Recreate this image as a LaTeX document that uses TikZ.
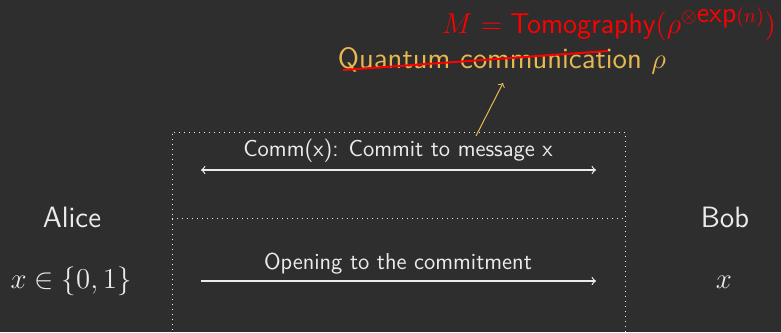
\documentclass[tikz,border=0pt]{standalone}
\definecolor{bg}{RGB}{46,46,46}
\definecolor{fg}{RGB}{235,235,235}
\definecolor{orng}{RGB}{232,185,80}
\definecolor{rd}{RGB}{255,0,0}
\tikzset{
  small/.style={font=\sffamily\fontsize{11.5}{13}\selectfont, text=fg, anchor=base, inner sep=0pt},
  big/.style={font=\sffamily\fontsize{14.7}{17}\selectfont, anchor=base, inner sep=0pt},
  msg/.style={draw=fg, line width=0.6pt, -to},
  box/.style={draw=fg, dotted, line width=0.5pt},
}
\begin{document}
\begin{tikzpicture}[x=0.5pt, y=-0.5pt]
\fill[bg] (0,0) rectangle (781,332);
\useasboundingbox (0,0) rectangle (781,332);
% dotted frame
\draw[box] (172,345) -- (172,132) -- (625,132) -- (625,345);
\draw[box] (172,218) -- (625,218);
% top texts
\node[big, text=rd, font=\sffamily\fontsize{14.3}{17}\selectfont] (tomo) at (609,33) {$M = \textsf{Tomography}(\rho^{\otimes \textsf{exp}(n)})$};
\node[big, text=orng] (qc) at (502,68) {Quantum communication $\rho$};
\coordinate (s1) at (343,70);
\coordinate (s2) at (608,51);
\draw[rd, line width=1pt] (s1) -- (s2);
\coordinate (a1) at (476,136);
\coordinate (a2) at (503,83);
\draw[orng, line width=0.5pt, -to] (a1) -- (a2);
% parties
\node[big, text=fg] (alice) at (72,227) {Alice};
\node[big, text=fg] (bob) at (725,227) {Bob};
\node[big, text=fg] (xa) at (71,288) {$x \in \{0,1\}$};
\node[big, text=fg] (xb) at (724,288) {$x$};
% messages
\node[small] (comm) at (398,156) {Comm(x): Commit to message x};
\coordinate (c1) at (201,170);
\coordinate (c2) at (596,170);
\draw[msg, to-to] (c1) -- (c2);
\node[small] (open) at (398,269) {Opening to the commitment};
\coordinate (o1) at (201,281);
\coordinate (o2) at (596,281);
\draw[msg] (o1) -- (o2);
\end{tikzpicture}
\end{document}
